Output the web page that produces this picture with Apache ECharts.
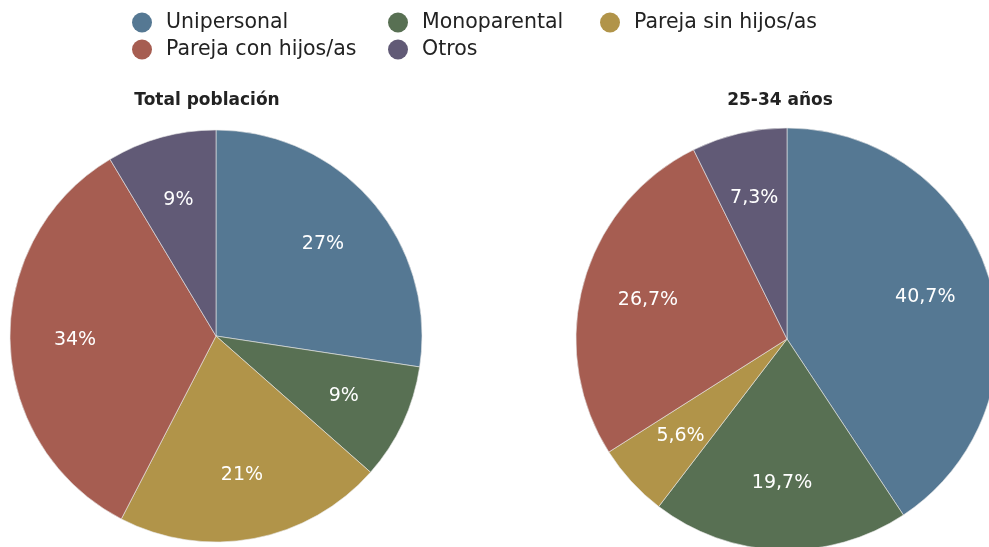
<!DOCTYPE html>
<html>
<head>
<meta charset="utf-8">
<script src="https://cdn.jsdelivr.net/npm/echarts@6/dist/echarts.min.js"></script>
<style>
html,body{margin:0;padding:0;background:#fff;}
#one{width:989px;height:547px;}
</style>
</head>
<body>
<div id="one"></div>
<script>
// categorias y valores
var categorias = ['Unipersonal', 'Monoparental', 'Pareja sin hijos/as', 'Pareja con hijos/as', 'Otros'];
var colores = ['#557893', '#587053', '#b19449', '#a65d51', '#615a76'];
var totalPoblacion = [27.4, 9.1, 21.1, 33.8, 8.6];
var jovenes = [40.7, 19.7, 5.6, 26.7, 7.3];
var titulos = ['Total población', '25-34 años'];

var mainContainer = document.getElementById('one');
var pie_Chart = echarts.init(mainContainer);

var fuente = 'DejaVu Sans';

function datos(vals) {
    return vals.map(function (v, i) {
        return { name: categorias[i], value: v, itemStyle: { color: colores[i] } };
    });
}
// total: entero; 25-34: un decimal con coma
function fmtEntero(p) {
    return Math.round(p.value) + '%';
}
function fmtDecimal(p) {
    return String(p.value).replace('.', ',') + '%';
}
// serie de color (sin etiqueta)
function tarta(vals, cx, cy, r) {
    return {
        type: 'pie',
        center: [cx, cy],
        radius: [0, r],
        startAngle: 90,
        clockwise: true,
        silent: true,
        label: { show: false },
        labelLine: { show: false },
        itemStyle: { borderColor: '#e8e8e8', borderWidth: 0.6 },
        data: datos(vals)
    };
}
// serie transparente para colocar etiquetas mas afuera
function etiquetas(vals, cx, cy, r, fmt) {
    var d = datos(vals).map(function (x) {
        x.itemStyle = { color: 'rgba(0,0,0,0)' };
        return x;
    });
    return {
        type: 'pie',
        center: [cx, cy],
        radius: [r * 0.34, r],
        startAngle: 90,
        clockwise: true,
        silent: true,
        legendHoverLink: false,
        label: {
            show: true,
            position: 'inside',
            formatter: fmt,
            color: '#ffffff',
            opacity: 1,
            textBorderWidth: 0,
            fontFamily: fuente,
            fontSize: 19
        },
        labelLine: { show: false },
        data: d
    };
}

function leyenda(left, nombres) {
    return {
        orient: 'vertical',
        left: left,
        top: 7,
        icon: 'circle',
        itemWidth: 20,
        itemHeight: 20,
        itemGap: 6,
        selectedMode: false,
        itemStyle: { borderWidth: 0 },
        textStyle: { fontFamily: fuente, fontSize: 20.5, color: '#222', padding: [0, 0, 0, 9] },
        data: nombres
    };
}

var pie_Chart_option = {
    backgroundColor: '#ffffff',
    animation: false,
    title: [
        { text: titulos[0], left: 202, top: 87, textAlign: 'center',
          textStyle: { fontFamily: fuente, fontSize: 17, fontWeight: 'bold', color: '#222' } },
        { text: titulos[1], left: 775, top: 87, textAlign: 'center',
          textStyle: { fontFamily: fuente, fontSize: 17, fontWeight: 'bold', color: '#222' } }
    ],
    legend: [
        leyenda(127, [categorias[0], categorias[3]]),
        leyenda(383, [categorias[1], categorias[4]]),
        leyenda(595, [categorias[2]])
    ],
    series: [
        tarta(totalPoblacion, 216, 336, 206),
        tarta(jovenes, 787, 339, 211),
        etiquetas(totalPoblacion, 216, 336, 206, fmtEntero),
        etiquetas(jovenes, 787, 339, 211, fmtDecimal)
    ]
};
pie_Chart.setOption(pie_Chart_option);
</script>
</body>
</html>
